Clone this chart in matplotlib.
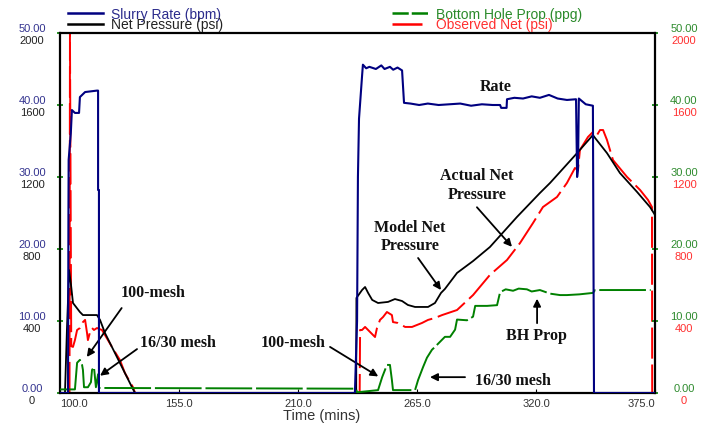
import matplotlib.pyplot as plt
import matplotlib.transforms as mtransforms
from matplotlib.lines import Line2D

plt.rcParams['font.family'] = ['Liberation Sans', 'DejaVu Sans']

# ---- values ----
# slurry rate (bpm) vs time (mins)
rate_t = [100.0, 103.7, 103.9, 104.0, 105.0, 105.5, 106.9, 108.8, 109.2, 111.6, 117.1, 117.6, 117.6, 118.0, 118.0,
          236.3, 237.3, 237.7, 238.2, 239.6, 240.0, 241.5, 243.0, 246.0, 248.5, 250.0, 252.5, 254.0, 256.0, 258.1,
          259.0, 262.0, 266.0, 270.0, 275.0, 280.0, 285.0, 290.0, 295.0, 300.0, 303.4, 303.9, 306.4, 306.6, 310.0,
          314.0, 318.0, 321.8, 326.0, 330.0, 334.3, 338.5, 339.0, 339.4, 339.8, 343.0, 346.3, 346.8, 375.0]
rate_v = [0, 0, 25.0, 32.4, 36.1, 39.3, 38.9, 38.9, 41.1, 41.8, 42.0, 42.0, 28.2, 28.2, 0,
          0, 10.0, 30.0, 38.1, 44.0, 45.6, 45.1, 45.3, 45.0, 45.5, 45.0, 45.3, 44.9, 45.2, 44.8,
          40.3, 40.2, 40.0, 40.2, 40.0, 40.1, 40.2, 39.9, 40.1, 40.0, 40.0, 39.6, 39.6, 40.8, 41.0,
          40.9, 41.2, 41.0, 41.4, 40.9, 40.7, 40.8, 30.0, 31.0, 40.9, 40.1, 39.9, 0, 0]

# model net pressure (psi)
net_t = [100.0, 102.3, 103.2, 104.2, 105.1, 106.0, 109.2, 110.6, 117.1, 118.5, 120.8, 125.4, 130.0, 133.7, 134.7,
         236.9, 237.0, 239.6, 241.0, 242.4, 244.3, 247.0, 251.6, 254.8, 258.1, 260.8, 264.1, 270.1, 273.3, 276.1,
         277.9, 283.5, 290.9, 298.7, 311.2, 321.8, 326.5, 331.1, 339.0, 346.3, 347.3, 352.8, 358.8, 366.7, 372.7, 375.0]
net_v = [0, 0, 350, 683, 600, 500, 450, 433, 433, 406, 333, 222, 111, 22, 0,
         0, 528, 572, 589, 556, 517, 500, 506, 522, 511, 489, 478, 478, 500, 556,
         578, 667, 733, 811, 978, 1111, 1167, 1228, 1333, 1433, 1417, 1333, 1222, 1117, 1033, 989]

# observed net pressure (psi)
obs_t = [104.4, 104.6, 105.2, 106.0, 106.9, 107.9, 109.2, 110.6, 111.6, 112.5, 112.9, 113.9, 114.8, 115.7, 117.1,
         119.4, 120.8, 124.0, 127.7, 130.0, 133.7, 134.7,
         238.5, 238.7, 239.6, 241.0, 243.3, 245.6, 246.5, 247.9, 249.3, 251.1, 253.4, 253.9, 256.2,
         259.5, 262.7, 267.3, 270.1, 273.3, 276.6, 283.5, 290.9, 298.7, 306.6, 312.6, 318.6, 323.2, 329.7,
         334.3, 338.0, 339.4, 340.3, 344.0, 346.3, 348.2, 349.6, 351.0, 352.8, 355.6, 362.1, 368.1, 371.8,
         373.6, 373.7]
obs_v = [0, 2000, 260, 256, 294, 350, 361, 394, 406, 333, 294, 339, 361, 350, 361,
         350, 322, 256, 183, 111, 33, 0,
         0, 350, 350, 367, 339, 311, 361, 406, 422, 450, 433, 394, 389,
         367, 367, 389, 406, 417, 433, 461, 544, 656, 739, 833, 944, 1033, 1089,
         1167, 1250, 1239, 1350, 1422, 1450, 1433, 1461, 1461, 1406, 1294, 1200, 1128, 1072,
         1033, 0]

# bottom hole proppant concentration (ppg)
prop_t = [100.0, 106.9, 107.9, 109.2, 110.2, 110.6, 111.1, 112.9, 114.3, 114.8, 115.7, 116.6, 117.6, 118.0,
          236.8, 237.3, 247.0, 248.9, 250.2, 251.1, 252.5, 253.4, 253.9, 264.1, 265.5, 267.8, 269.6, 271.9,
          273.3, 275.6, 277.9, 280.3, 282.6, 283.5, 288.1, 290.9, 291.9, 297.4, 302.0, 303.4, 306.0, 309.4,
          312.0, 315.8, 318.0, 321.8, 326.5, 331.1, 334.3, 340.0, 346.3, 347.3, 373.0]
prop_v = [0.5, 0.5, 4.2, 4.6, 3.9, 3.2, 0.8, 0.8, 1.5, 3.2, 3.6, 0.8, 2.6, 0.7,
          0.6, 0.1, 0.4, 2.2, 3.2, 3.9, 3.9, 1.8, 0.4, 0.4, 1.8, 3.6, 4.9, 6.0,
          6.4, 7.1, 7.8, 7.8, 8.8, 10.2, 10.1, 10.6, 12.1, 12.1, 12.2, 14.0, 14.4, 14.2,
          14.5, 14.4, 14.1, 14.3, 13.8, 13.6, 13.6, 13.7, 13.9, 14.3, 14.3]

time_ticks = [100.0, 155.0, 210.0, 265.0, 320.0, 375.0]
rate_ticks = [0, 10, 20, 30, 40, 50]
press_ticks = [0, 400, 800, 1200, 1600, 2000]

NAVY = '#000080'
GREEN = '#008000'
RED = '#ff0000'

fig = plt.figure(figsize=(7.11, 4.24), dpi=100)
ax = fig.add_axes([60 / 711, 1 - 393 / 424, 595 / 711, 360 / 424])
axp = ax.twinx()  # pressure scale, drawn underneath
ax.set_zorder(axp.get_zorder() + 1)
ax.patch.set_visible(False)

axp.plot(obs_t, obs_v, color=RED, lw=1.4, dashes=(16, 3), zorder=3)
axp.plot(net_t, net_v, color='black', lw=1.3, zorder=4)
ax.plot(prop_t, prop_v, color=GREEN, lw=1.4, dashes=(24, 2), zorder=3)
ax.plot(rate_t, rate_v, color=NAVY, lw=1.5, zorder=5)

ax.set_xlim(100, 375)
ax.set_ylim(0, 50)
axp.set_ylim(0, 2000)

for s in axp.spines.values():
    s.set_visible(False)
for s in ax.spines.values():
    s.set_linewidth(1.6)
axp.tick_params(right=False, labelright=False)

ax.set_yticks(rate_ticks)
ax.tick_params(axis='y', left=True, right=True, labelleft=False, color=GREEN,
               length=4, width=1.2, direction='inout')
ax.set_xticks(time_ticks)
ax.set_xticklabels([f'{t:.1f}' for t in time_ticks])
ax.tick_params(axis='x', direction='in', length=3, pad=4, labelsize=8, labelcolor='#333333')
xl = ax.get_xticklabels()
xl[0].set_ha('left')
xl[-1].set_ha('right')

# double y tick labels on both sides
ytr = ax.get_yaxis_transform()
up = mtransforms.offset_copy(ytr, fig=fig, y=1, units='dots')
down = mtransforms.offset_copy(ytr, fig=fig, y=-3, units='dots')
for r, p in zip(rate_ticks, press_ticks):
    ax.text(-0.047, r, f'{r:.2f}', transform=up, ha='center', va='baseline', fontsize=8, color='#33338f')
    ax.text(-0.047, r, f'{p}', transform=down, ha='center', va='top', fontsize=8, color='#222222')
    ax.text(1.0487, r, f'{r:.2f}', transform=up, ha='center', va='baseline', fontsize=8, color='#2e8b2e')
    ax.text(1.0487, r, f'{p}', transform=down, ha='center', va='top', fontsize=8, color='#ff3030')

ax.text(0.4395, -0.075, 'Time (mins)', transform=ax.transAxes, ha='center', va='baseline',
        fontsize=10.5, color='#333333')

# legend drawn by hand above the plot
def leg(x0, x1, yline, ytext, label, color, tcolor, dashes=None):
    ln = Line2D([x0 / 711, x1 / 711], [1 - yline / 424] * 2, transform=fig.transFigure,
                color=color, lw=1.8)
    if dashes:
        ln.set_dashes(dashes)
    fig.add_artist(ln)
    fig.text((x1 + 8) / 711, 1 - ytext / 424, label, va='baseline', fontsize=10, color=tcolor)

leg(68, 103, 13, 19.5, 'Slurry Rate (bpm)', NAVY, '#2b2b8c')
leg(68, 103, 24, 29.5, 'Net Pressure (psi)', 'black', '#222222')
leg(392, 428, 13, 19.5, 'Bottom Hole Prop (ppg)', GREEN, '#2a8a2a', dashes=(6.5, 1.2))
leg(392, 428, 24, 29.5, 'Observed Net (psi)', RED, '#ff3030', dashes=(12, 2.8))

# annotations
tfont = dict(family=['Liberation Serif', 'DejaVu Serif'], weight='bold', fontsize=11.5,
             ha='center', va='baseline', color='#111111')
aprops = dict(arrowstyle='-|>', color='black', lw=1.3, mutation_scale=11, shrinkA=0, shrinkB=0)

ax.text(301.5, 42.0, 'Rate', **tfont)
ax.text(292.7, 29.6, 'Actual Net', **tfont)
ax.text(292.7, 26.9, 'Pressure', **tfont)
ax.text(261.8, 22.4, 'Model Net', **tfont)
ax.text(261.8, 19.9, 'Pressure', **tfont)
ax.text(143.2, 13.4, '100-mesh', **tfont)
ax.text(154.3, 6.4, '16/30 mesh', **tfont)
ax.text(207.8, 6.4, '100-mesh', **tfont)
ax.text(309.4, 1.1, '16/30 mesh', **tfont)
ax.text(320.3, 7.3, 'BH Prop', **tfont)

ax.annotate('', xy=(276.1, 14.3), xytext=(265.5, 18.75), arrowprops=aprops)
ax.annotate('', xy=(308.9, 20.3), xytext=(292.7, 25.8), arrowprops=aprops)
ax.annotate('', xy=(112.4, 5.0), xytext=(128.5, 11.8), arrowprops=aprops)
ax.annotate('', xy=(118.5, 2.4), xytext=(135.6, 6.1), arrowprops=aprops)
ax.annotate('', xy=(247.1, 2.3), xytext=(224.8, 6.4), arrowprops=aprops)
ax.annotate('', xy=(271.0, 2.2), xytext=(287.2, 2.2), arrowprops=aprops)
ax.annotate('', xy=(320.5, 13.1), xytext=(320.5, 9.7), arrowprops=aprops)

fig.savefig('out.png', dpi=100)
